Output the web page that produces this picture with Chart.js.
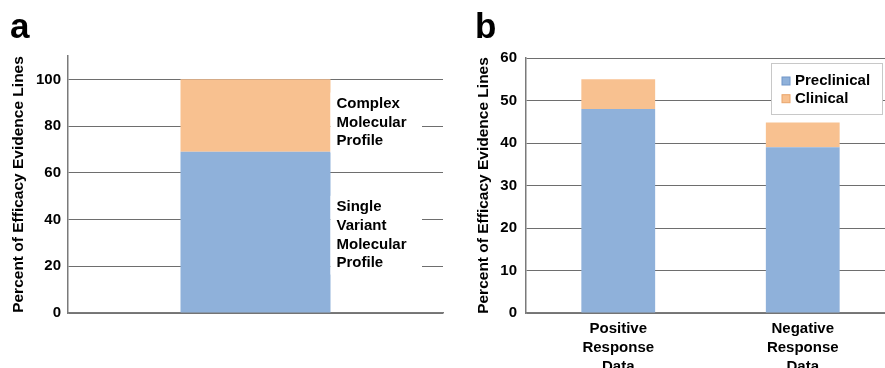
<!DOCTYPE html>
<html>
<head>
<meta charset="utf-8">
<script src="https://cdn.jsdelivr.net/npm/chart.js@4.4.1/dist/chart.umd.min.js"></script>
<style>
  html, body { margin: 0; padding: 0; width: 885px; height: 368px; overflow: hidden; background: #fff; }
  #wrapA { position: absolute; left: 0; top: 0; width: 450px; height: 368px; }
  #wrapB { position: absolute; left: 450px; top: 0; width: 450px; height: 400px; }
</style>
</head>
<body>
<div id="wrapA"><canvas id="chartA" width="450" height="368"></canvas></div>
<div id="wrapB"><canvas id="chartB" width="450" height="400"></canvas></div>
<script>
// ---------- data ----------
const panelACategories = ['Molecular Profile'];
const panelASingleVariant = [69];
const panelAComplex = [31];
const panelASegmentLabels = [['Complex', 'Molecular', 'Profile'], ['Single', 'Variant', 'Molecular', 'Profile']];
const panelAYMax = 110;
const panelAYStep = 20;

const panelBCategories = [['Positive', 'Response', 'Data'], ['Negative', 'Response', 'Data']];
const panelBPreclinical = [48, 39];
const panelBClinical = [7, 5.8];
const panelBSeriesNames = ['Preclinical', 'Clinical'];
const panelBYMax = 60;
const panelBYStep = 10;

const yTitle = 'Percent of Efficacy Evidence Lines';

// ---------- styles ----------
const BLUE = '#8fb1da';
const ORANGE = '#f8c190';
const GRID = '#6e6e6e';
const AXIS = '#7a7a7a';
const FONT = '"Liberation Sans", Arial, sans-serif';

function panelLetter(letter, x, y) {
  return {
    id: 'letter' + letter,
    afterDraw(chart) {
      const ctx = chart.ctx;
      ctx.save();
      ctx.font = 'bold 35px ' + FONT;
      ctx.fillStyle = '#000';
      ctx.textBaseline = 'alphabetic';
      ctx.textAlign = 'left';
      ctx.fillText(letter, x, y);
      ctx.restore();
    }
  };
}

// Panel a segment labels with white backgrounds (hiding gridlines behind them)
const segmentLabelsPlugin = {
  id: 'segLabels',
  afterDatasetsDraw(chart) {
    const ctx = chart.ctx;
    const ys = chart.scales.y;
    const meta = chart.getDatasetMeta(0);
    const bar = meta.data[0];
    const xLeft = bar.x + bar.width / 2;
    const xRight = chart.chartArea.right - 21;
    const lh = 18.7;
    const centers = [81.5, 33.3];
    ctx.save();
    ctx.font = 'bold 15px ' + FONT;
    ctx.textBaseline = 'middle';
    ctx.textAlign = 'left';
    panelASegmentLabels.forEach((lines, i) => {
      const cy = ys.getPixelForValue(centers[i]);
      const h = lines.length * lh;
      ctx.fillStyle = '#fff';
      ctx.fillRect(xLeft, cy - h / 2 - 2, xRight - xLeft, h + 4);
      ctx.fillStyle = '#000';
      lines.forEach((t, j) => {
        ctx.fillText(t, xLeft + 6, cy + (j - (lines.length - 1) / 2) * lh);
      });
    });
    ctx.restore();
  }
};

// Panel b legend
const legendPlugin = {
  id: 'boxLegend',
  afterDraw(chart) {
    const ctx = chart.ctx;
    const ca = chart.chartArea;
    const w = 111, h = 51;
    const x0 = ca.right - 13 - w + 0.5;
    const y0 = ca.top + 5 + 0.5;
    ctx.save();
    ctx.fillStyle = '#fff';
    ctx.fillRect(x0, y0, w, h);
    ctx.strokeStyle = '#c8c8c8';
    ctx.lineWidth = 1;
    ctx.strokeRect(x0, y0, w, h);
    ctx.font = 'bold 15px ' + FONT;
    ctx.textBaseline = 'middle';
    ctx.textAlign = 'left';
    const colors = [BLUE, ORANGE];
    const borders = ['#7096c8', '#e9a56c'];
    panelBSeriesNames.forEach((name, i) => {
      const cy = y0 + 17.5 + i * 17.7;
      ctx.fillStyle = colors[i];
      ctx.fillRect(x0 + 10.5, cy - 4, 8, 8);
      ctx.strokeStyle = borders[i];
      ctx.strokeRect(x0 + 10.5, cy - 4, 8, 8);
      ctx.fillStyle = '#000';
      ctx.fillText(name, x0 + 23.5, cy);
    });
    ctx.restore();
  }
};

function yScale(max, step, width, tickPad, titlePad) {
  return {
    stacked: true,
    min: 0,
    max: max,
    afterBuildTicks(scale) {
      scale.ticks = scale.ticks.filter(t => t.value % step === 0);
    },
    afterFit(scale) { scale.width = width; },
    ticks: {
      stepSize: step,
      padding: tickPad,
      color: '#000',
      font: { family: FONT, size: 15, weight: 'bold' }
    },
    grid: { color: GRID, lineWidth: 1, drawTicks: false },
    border: { display: true, color: AXIS, width: 1.5 },
    title: {
      display: true,
      text: yTitle,
      color: '#000',
      padding: { top: titlePad, bottom: 0 },
      font: { family: FONT, size: 15.5, weight: 'bold' }
    }
  };
}

// ---------- Panel a ----------
new Chart(document.getElementById('chartA'), {
  type: 'bar',
  data: {
    labels: panelACategories,
    datasets: [
      { label: 'Single Variant Molecular Profile', data: panelASingleVariant, backgroundColor: BLUE, borderWidth: 0 },
      { label: 'Complex Molecular Profile', data: panelAComplex, backgroundColor: ORANGE, borderWidth: 0 }
    ]
  },
  options: {
    responsive: false,
    animation: false,
    devicePixelRatio: 1,
    layout: { padding: { left: 0, right: 7, top: 56, bottom: 0 } },
    datasets: { bar: { categoryPercentage: 1, barPercentage: 0.4 } },
    plugins: { legend: { display: false }, tooltip: { enabled: false } },
    scales: {
      x: {
        stacked: true,
        afterFit(scale) { scale.height = 55; },
        ticks: { display: false },
        grid: { display: false },
        border: { display: true, color: AXIS, width: 1.5 }
      },
      y: yScale(panelAYMax, panelAYStep, 68, 7, 9)
    }
  },
  plugins: [segmentLabelsPlugin, panelLetter('a', 10, 38)]
});

// ---------- Panel b ----------
new Chart(document.getElementById('chartB'), {
  type: 'bar',
  data: {
    labels: panelBCategories,
    datasets: [
      { label: panelBSeriesNames[0], data: panelBPreclinical, backgroundColor: BLUE, borderWidth: 0 },
      { label: panelBSeriesNames[1], data: panelBClinical, backgroundColor: ORANGE, borderWidth: 0 }
    ]
  },
  options: {
    responsive: false,
    animation: false,
    devicePixelRatio: 1,
    layout: { padding: { left: 0, right: 5, top: 58, bottom: 0 } },
    datasets: { bar: { categoryPercentage: 1, barPercentage: 0.4 } },
    plugins: { legend: { display: false }, tooltip: { enabled: false } },
    scales: {
      x: {
        stacked: true,
        afterFit(scale) { scale.height = 87; },
        ticks: {
          padding: 7,
          color: '#000',
          maxRotation: 0,
          font: { family: FONT, size: 15, weight: 'bold', lineHeight: 1.24 }
        },
        grid: { display: false, drawTicks: false },
        border: { display: true, color: AXIS, width: 1.5 }
      },
      y: yScale(panelBYMax, panelBYStep, 76, 9, 24)
    }
  },
  plugins: [legendPlugin, panelLetter('b', 25, 38)]
});
</script>
</body>
</html>
